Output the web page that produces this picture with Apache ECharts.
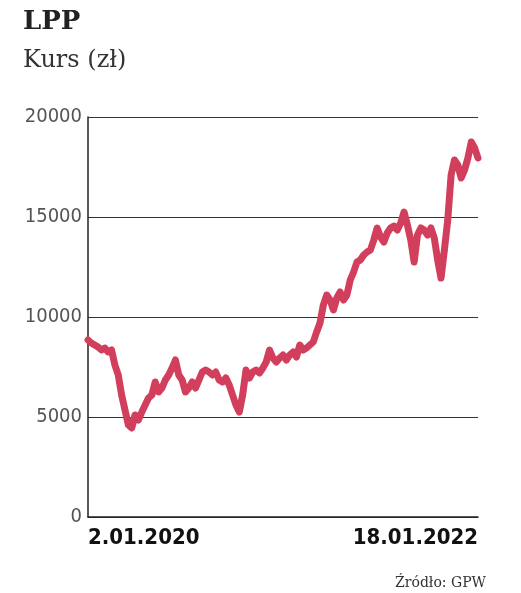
<!DOCTYPE html>
<html><head><meta charset="utf-8">
<script src="https://cdn.jsdelivr.net/npm/echarts@6/dist/echarts.min.js"></script>
<style>html,body{margin:0;padding:0;background:#fff}#c{width:521px;height:593px}</style>
</head><body><div id="c"></div>
<script>
const title = 'LPP';
const subtitle = 'Kurs (zł)';
const source = 'Źródło: GPW';
const dateLabels = ['2.01.2020', '18.01.2022'];
const yTicks = [0, 5000, 10000, 15000, 20000];
const prices = [8850,8700,8600,8500,8350,8450,8250,8350,7600,7100,6100,5350,4600,4450,5100,4850,5250,5600,5950,6100,6750,6250,6450,6850,7100,7450,7850,7100,6850,6250,6450,6750,6450,6850,7250,7350,7250,7100,7250,6850,6750,6950,6600,6100,5600,5250,6100,7350,6950,7250,7350,7200,7450,7750,8350,7950,7750,7950,8100,7850,8100,8250,8000,8600,8350,8450,8600,8750,9250,9700,10600,11100,10850,10350,10950,11250,10850,11100,11850,12250,12750,12850,13100,13250,13350,13850,14450,13999,13750,14200,14450,14550,14350,14700,15250,14600,13850,12750,14100,14450,14350,14100,14450,13950,12850,11950,13350,14850,17100,17850,17600,16950,17350,17950,18750,18450,17950];
const cats = prices.map((_, i) => i === 0 ? dateLabels[0] : (i === prices.length - 1 ? dateLabels[1] : ''));
const chart = echarts.init(document.getElementById('c'));
const serif = 'DejaVu Serif';
chart.setOption({
  animation: false,
  title: [
    {text: title, left: 18, top: 4, textStyle: {fontFamily: serif, fontWeight: 'bold', fontSize: 26, color: '#222'}},
    {text: subtitle, left: 18, top: 44, textStyle: {fontFamily: serif, fontWeight: 'normal', fontSize: 24, color: '#333'}},
    {text: source, right: 30, top: 571, textStyle: {fontFamily: serif, fontWeight: 'normal', fontSize: 14, color: '#333'}}
  ],
  grid: {left: 88, right: 43, top: 117, bottom: 76},
  xAxis: {
    type: 'category', data: cats, boundaryGap: false,
    axisLine: {lineStyle: {color: '#222', width: 1.5}}, axisTick: {show: false},
    axisLabel: {interval: 0, color: '#111', fontSize: 22, fontWeight: 'bold', fontFamily: 'DejaVu Sans Condensed', margin: 10,
      alignMinLabel: 'left', alignMaxLabel: 'right', showMinLabel: true, showMaxLabel: true}
  },
  yAxis: {
    type: 'value', min: yTicks[0], max: yTicks[yTicks.length - 1], interval: 5000,
    axisLine: {show: true, lineStyle: {color: '#222', width: 1.5}}, axisTick: {show: false},
    splitLine: {lineStyle: {color: '#333', width: 1.2}},
    axisLabel: {color: '#555', fontSize: 20, fontFamily: 'DejaVu Sans Condensed', margin: 6, formatter: v => String(v)}
  },
  series: [{type: 'line', data: prices, showSymbol: false, smooth: false,
    lineStyle: {color: '#d23f5c', width: 7, join: 'round', cap: 'round'}}]
});
</script></body></html>
